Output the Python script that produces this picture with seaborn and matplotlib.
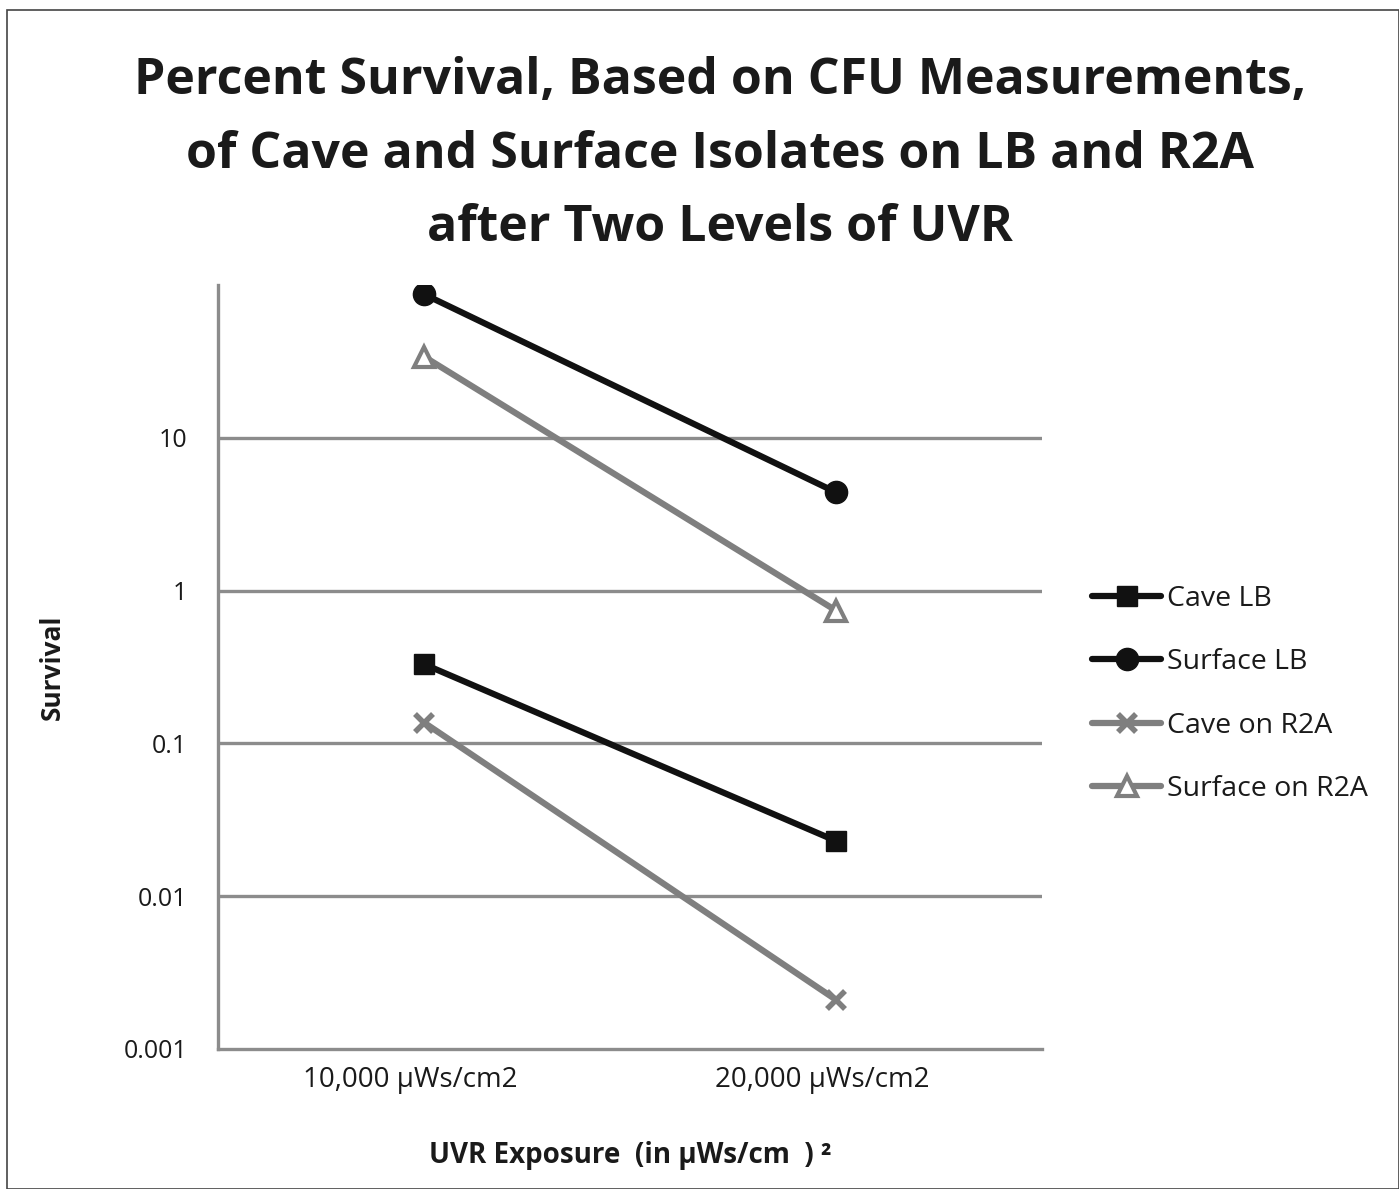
import numpy as np
import pandas as pd
import seaborn as sns
import matplotlib.pyplot as plt
import matplotlib.transforms as mtransforms
from matplotlib.patches import Rectangle

# Data
exposures = ["10,000 µWs/cm2", "20,000 µWs/cm2"]
cave_lb = [0.33, 0.023]
surface_lb = [87, 4.4]
cave_r2a = [0.137, 0.0021]
surface_r2a = [34, 0.74]

series_names = ["Cave LB", "Surface LB", "Cave on R2A", "Surface on R2A"]
series_values = [cave_lb, surface_lb, cave_r2a, surface_r2a]

df = pd.DataFrame({
    "exposure": exposures * len(series_names),
    "survival": np.concatenate(series_values),
    "series": np.repeat(series_names, len(exposures)),
})

sns.set_theme(style="white")
plt.rcParams['font.family'] = ['Open Sans', 'DejaVu Sans']

BLACK = "#111111"
GRAY = "#7f7f7f"
GRID = "#8c8c8c"
TEXT = "#1a1a1a"

# seaborn gives markers a white edge by default, so set edge colours explicitly
styles = {
    "Cave LB": dict(color=BLACK, marker="s", markersize=14, markeredgecolor=BLACK,
                    markeredgewidth=1, linewidth=4.5),
    "Surface LB": dict(color=BLACK, marker="o", markersize=16, markeredgecolor=BLACK,
                       markeredgewidth=1, linewidth=4.5),
    "Cave on R2A": dict(color=GRAY, marker="x", markersize=13, markeredgecolor=GRAY,
                        markeredgewidth=4, linewidth=4.5),
    "Surface on R2A": dict(color=GRAY, marker="^", markersize=14, markeredgecolor=GRAY,
                           markeredgewidth=3, markerfacecolor="white", linewidth=4.5),
}

fig = plt.figure(figsize=(13.99, 11.89), dpi=100)
ax = fig.add_axes([218 / 1399, 1 - 1049 / 1189, 824 / 1399, (1049 - 285) / 1189])

for name in series_names:
    sub = df[df["series"] == name]
    sns.lineplot(data=sub, x="exposure", y="survival", ax=ax, label=name,
                 sort=False, **styles[name])

ax.set_yscale("log")
ax.set_ylim(0.001, 100)
ax.set_xlim(-0.5, 1.5)
ax.set_yticks([0.001, 0.01, 0.1, 1, 10])
ax.set_yticklabels(["0.001", "0.01", "0.1", "1", "10"])
ax.minorticks_off()
ax.tick_params(axis="both", length=0, colors=TEXT)
ax.tick_params(axis="y", pad=22, labelsize=18)
ax.tick_params(axis="x", pad=12, labelsize=20)
# category labels sit a little left of the points in the original
shift = mtransforms.ScaledTranslation(-14 / 100, 0, fig.dpi_scale_trans)
for lbl in ax.get_xticklabels():
    lbl.set_transform(lbl.get_transform() + shift)

for y in [0.01, 0.1, 1, 10]:
    ax.axhline(y, color=GRID, linewidth=2.4, zorder=0)

for side in ["top", "right"]:
    ax.spines[side].set_visible(False)
for side in ["left", "bottom"]:
    ax.spines[side].set_color(GRID)
    ax.spines[side].set_linewidth(2.4)

ax.set_xlabel("")
ax.set_ylabel("")
fig.text(52 / 1399, 1 - 667 / 1189, "Survival", rotation=90, ha="center", va="center",
         fontsize=19, fontweight="bold", color=TEXT)
fig.text(630 / 1399, 1 - 1155 / 1189, "UVR Exposure  (in µWs/cm  ) ²", ha="center", va="center",
         fontsize=20, fontweight="bold", color=TEXT)

fig.text(720 / 1399, 1 - 56 / 1189,
         "Percent Survival, Based on CFU Measurements,\n"
         "of Cave and Surface Isolates on LB and R2A\n"
         "after Two Levels of UVR",
         ha="center", va="top", fontsize=36, fontweight="bold", color=TEXT, linespacing=1.62)

leg = ax.legend(loc="center left", bbox_to_anchor=(1066 / 1399, 1 - 694 / 1189),
                bbox_transform=fig.transFigure, frameon=False, fontsize=20.5,
                handlelength=2.45, handletextpad=0.18, labelspacing=1.25)
for t in leg.get_texts():
    t.set_color(TEXT)

fig.patches.append(Rectangle((7 / 1399, 0), 1 - 7 / 1399, 1 - 10 / 1189,
                             transform=fig.transFigure, fill=False,
                             edgecolor="#444444", linewidth=1.2))

fig.savefig("out.png", dpi=100)
